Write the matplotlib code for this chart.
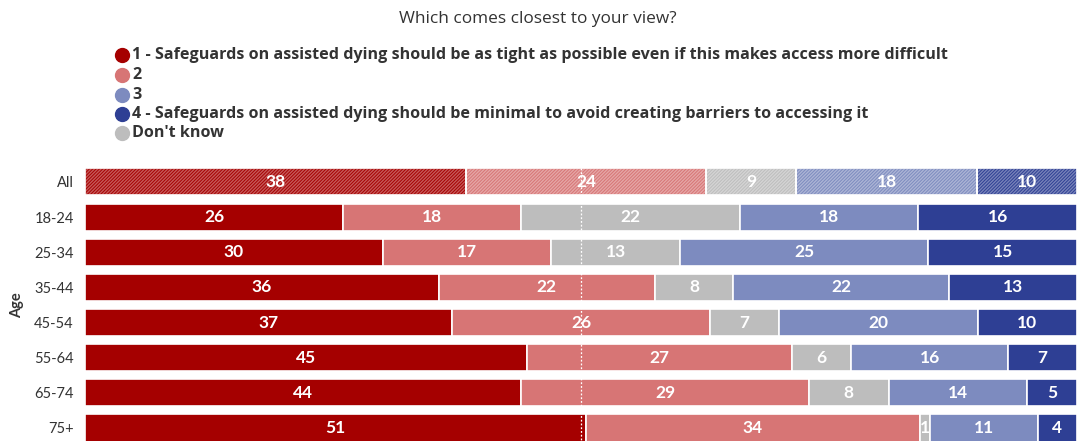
import matplotlib.pyplot as plt
import numpy as np
from matplotlib.lines import Line2D

plt.rcParams["font.family"] = ["Lato", "DejaVu Sans"]

# datos (porcentajes por fila)
grupos = ["All", "18-24", "25-34", "35-44", "45-54", "55-64", "65-74", "75+"]
opcion_1 = [38, 26, 30, 36, 37, 45, 44, 51]
opcion_2 = [24, 18, 17, 22, 26, 27, 29, 34]
no_sabe = [9, 22, 13, 8, 7, 6, 8, 1]
opcion_3 = [18, 18, 25, 22, 20, 16, 14, 11]
opcion_4 = [10, 16, 15, 13, 10, 7, 5, 4]

etiquetas = [
    "1 - Safeguards on assisted dying should be as tight as possible even if this makes access more difficult",
    "2",
    "3",
    "4 - Safeguards on assisted dying should be minimal to avoid creating barriers to accessing it",
    "Don't know",
]

# colores de cada respuesta
rojo_oscuro = "#a50000"
rojo_claro = "#d77575"
gris = "#bdbdbd"
azul_claro = "#7d8bbf"
azul_oscuro = "#2e3f94"

# orden en que se apilan los segmentos
series = [opcion_1, opcion_2, no_sabe, opcion_3, opcion_4]
colores = [rojo_oscuro, rojo_claro, gris, azul_claro, azul_oscuro]


def aclarar(color, factor):
    """mezcla un color con blanco"""
    import matplotlib.colors as mcolors
    r, g, b = mcolors.to_rgb(color)
    return (r + (1 - r) * factor, g + (1 - g) * factor, b + (1 - b) * factor)


fig = plt.figure(figsize=(10.77, 4.41), dpi=100)
ax = fig.add_axes([85 / 1077, 0, 1 - 85 / 1077, 281 / 441])

valores = np.array(series, dtype=float)
totales = valores.sum(axis=0)
anchos = valores / totales * 100
posiciones = np.arange(len(grupos))
alto = 0.77

plt.rcParams["hatch.linewidth"] = 1.0
izquierda = np.zeros(len(grupos))
for i in range(len(series)):
    for j in range(len(grupos)):
        if j == 0:
            # la fila "All" va rayada
            ax.barh(posiciones[j], anchos[i][j], left=izquierda[j], height=alto,
                    color=colores[i], edgecolor=aclarar(colores[i], 0.35),
                    hatch="//////////", linewidth=0, zorder=2)
            ax.barh(posiciones[j], anchos[i][j], left=izquierda[j], height=alto,
                    fill=False, edgecolor="white", linewidth=1.2, zorder=3)
        else:
            ax.barh(posiciones[j], anchos[i][j], left=izquierda[j], height=alto,
                    color=colores[i], edgecolor="white", linewidth=1.2, zorder=2)
        ax.text(izquierda[j] + anchos[i][j] / 2, posiciones[j], f"{series[i][j]:.0f}",
                color="white", fontsize=12.5, fontweight="bold",
                ha="center", va="center", zorder=5)
    izquierda = izquierda + anchos[i]

# linea punteada del 50%
ax.plot([50, 50], [-alto / 2, len(grupos) - 1 + alto / 2], color="white",
        linestyle=(0, (1.5, 1.5)), linewidth=0.9, zorder=4)

ax.set_xlim(0, 100)
ax.set_ylim(len(grupos) - 1 + 0.37, -0.625)
ax.set_yticks(posiciones)
ax.set_yticklabels(grupos, fontsize=10.5, color="#333333")
ax.tick_params(axis="y", length=0, pad=8)
ax.set_xticks([])
for lado in ["top", "right", "bottom", "left"]:
    ax.spines[lado].set_visible(False)

# titulo del eje
ax.text(-68 / 992 * 100, 3.5, "Age", rotation=90, fontsize=10.5,
        fontweight="bold", color="#333333", ha="center", va="center")

# titulo general
fig.text(538 / 1077, 1 - 19 / 441, "Which comes closest to your view?",
         fontsize=12.4, color="#333333", ha="center", va="center",
         family=["Open Sans", "DejaVu Sans"])

# leyenda hecha a mano
colores_leyenda = [rojo_oscuro, rojo_claro, azul_claro, azul_oscuro, gris]
alturas_leyenda = [55, 75, 95, 114, 133]
for texto, color, alto_px in zip(etiquetas, colores_leyenda, alturas_leyenda):
    y_fig = 1 - alto_px / 441
    fig.add_artist(Line2D([122 / 1077], [y_fig], marker="o", markersize=10,
                          color=color, linestyle="none",
                          transform=fig.transFigure))
    fig.text(132 / 1077, y_fig, texto, fontsize=11.6, fontweight="bold",
             color="#333333", ha="left", va="center",
             family=["Open Sans", "DejaVu Sans"])

plt.savefig("out.png", dpi=100)
plt.close()
